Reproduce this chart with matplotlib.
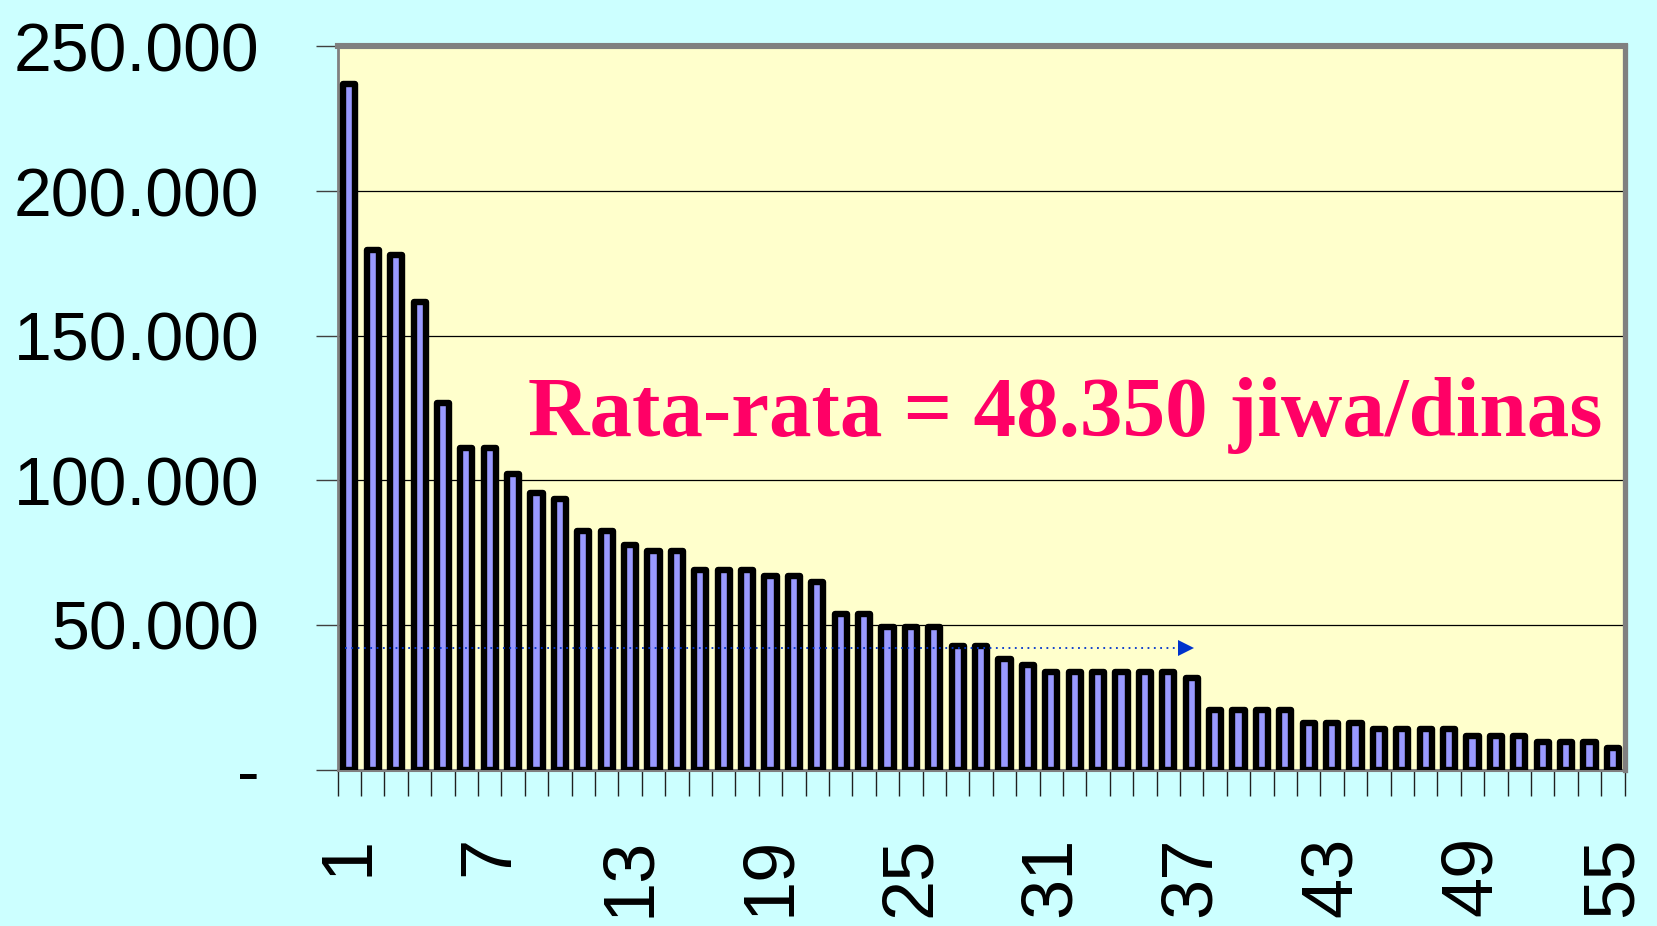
import numpy as np
import matplotlib
matplotlib.use('Agg')
import matplotlib.pyplot as plt

# population served per dinas, sorted descending (55 dinas)
dinas_no = list(range(1, 56))
jiwa = [
    237000, 179800, 177800, 161800, 126800, 111000, 111000, 102300, 95700, 93500,
    82500, 82500, 77800, 75600, 75600, 69000, 69000, 69000, 66900, 66900,
    64700, 53800, 53800, 49200, 49200, 49200, 42600, 42600, 38100, 36000,
    33700, 33700, 33700, 33700, 33700, 33700, 31500, 20600, 20600, 20600,
    20600, 16200, 16200, 16200, 14000, 14000, 14000, 14000, 11700, 11700,
    11700, 9600, 9600, 9600, 7400,
]
x_labels = ['1', '7', '13', '19', '25', '31', '37', '43', '49', '55']
y_ticks = [0, 50000, 100000, 150000, 200000, 250000]
y_labels = ['-', '50.000', '100.000', '150.000', '200.000', '250.000']
avg_line_y = 42000
avg_line_x = [0.8, 36.75]
note = 'Rata-rata = 48.350 jiwa/dinas'

BG = '#CCFFFF'
PLOT_BG = '#FFFFCC'
BAR = '#9999FF'
FRAME = '#808080'

fig = plt.figure(figsize=(16.57, 9.26), dpi=100, facecolor=BG)
ax = fig.add_axes([0.2038, 0.1690, 0.7766, 0.7808], facecolor=PLOT_BG)

bars = ax.bar(dinas_no, jiwa, width=0.52, color=BAR, edgecolor='black', linewidth=4.6, zorder=3)
for b in bars:
    b.set_joinstyle('round')

ax.set_xlim(0.5, 55.5)
ax.set_ylim(0, 250000)

ax.set_yticks(y_ticks)
ax.set_yticklabels(y_labels, fontsize=49, fontfamily='Liberation Sans')
ax.tick_params(axis='y', direction='out', length=16, width=1, color='#404040', pad=40.5)
ax.grid(axis='y', color='black', linewidth=0.9, zorder=1)

ax.set_xticks([int(l) for l in x_labels])
ax.set_xticklabels(x_labels, rotation=90, fontsize=52, fontfamily='Liberation Sans')
ax.set_xticks(np.arange(0.5, 56, 1), minor=True)
ax.tick_params(axis='x', which='major', length=0, pad=48)
ax.tick_params(axis='x', which='minor', direction='out', length=19, width=1, color='#202020')

for side, lw in [('top', 4.4), ('right', 3.8), ('left', 2.0), ('bottom', 2.2)]:
    ax.spines[side].set_color(FRAME)
    ax.spines[side].set_linewidth(lw)

ax.plot(avg_line_x, [avg_line_y, avg_line_y], linestyle=(0, (1, 2.5)), color='#0033CC',
        linewidth=1.3, zorder=4)
ax.plot(avg_line_x[1], avg_line_y, marker='>', markersize=11, color='#0033CC',
        markeredgewidth=0, zorder=4)

ax.text(0.148, 0.461, note, transform=ax.transAxes, ha='left', va='baseline',
        fontsize=61.3, fontweight='bold', fontfamily='Liberation Serif', color='#FF0066', zorder=5)

fig.savefig('out.png', dpi=100, facecolor=BG)
